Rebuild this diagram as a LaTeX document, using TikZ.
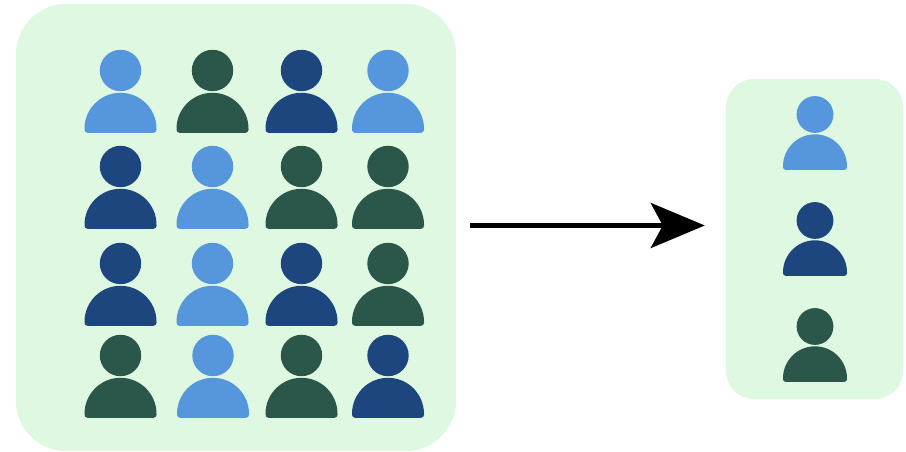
\documentclass[tikz,border=0pt]{standalone}
\usetikzlibrary{arrows.meta}
\definecolor{panelgreen}{HTML}{DEF8E1}
\definecolor{lightblue}{HTML}{5596DC}
\definecolor{navy}{HTML}{1C467D}
\definecolor{darkgreen}{HTML}{2A5749}
\tikzset{
  panel/.style={fill=panelgreen,inner sep=0pt},
  flow/.style={line width=5pt,-{Stealth[length=54pt,width=45pt,inset=12pt]}},
  person/.pic={
    \path[pic actions] (0,0) circle (20.7);
    \path[pic actions] (-33,-62.3) arc (270:180:3) -- (-36,-58.3)
      arc (180:0:36) -- (36,-59.3) arc (0:-90:3) -- cycle;
  }
}
\begin{document}
\begin{tikzpicture}[x=1pt,y=1pt]
\useasboundingbox (0,0) rectangle (906,452);
\node[panel,minimum width=440pt,minimum height=447pt,rounded corners=50pt] (crowd) at (236,224.5) {};
\node[panel,minimum width=177pt,minimum height=320pt,rounded corners=28pt] (sample) at (814.5,213) {};

\foreach \px/\py/\pcol in {
  120.5/381.5/lightblue, 212.5/381.5/darkgreen, 301.5/381.5/navy, 388/381.5/lightblue,
  120.5/285.5/navy, 212.5/285.5/lightblue, 301.5/285.5/darkgreen, 388/285.5/darkgreen,
  120.5/188.5/navy, 212.5/188.5/lightblue, 301.5/188.5/navy, 388/188.5/darkgreen,
  120.5/96.5/darkgreen, 213/96.5/lightblue, 301.5/96.5/darkgreen, 388/96.5/navy}
  \pic[fill=\pcol] at (\px,\py) {person};

\pic[fill=lightblue,scale=.889] at (815,337.5) {person};
\pic[fill=navy,scale=.889] at (815,231.5) {person};
\pic[fill=darkgreen,scale=.889] at (815,125.5) {person};

\draw[flow,shorten <=14pt,shorten >=21pt] ([yshift=2pt]crowd.east) -- ([yshift=2pt]crowd.east -| sample.west);
\end{tikzpicture}
\end{document}
